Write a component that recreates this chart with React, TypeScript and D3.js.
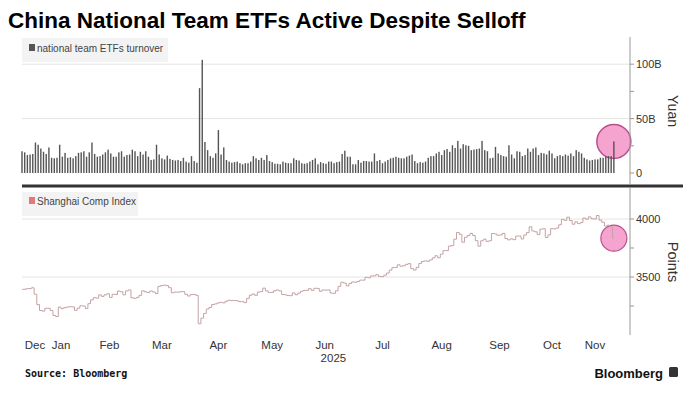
import * as d3 from "d3";

// month labels and trading days of each month on the axis
const months = ["Dec", "Jan", "Feb", "Mar", "Apr", "May", "Jun", "Jul", "Aug", "Sep", "Oct", "Nov"];

// national team ETFs turnover, billion yuan, one value per trading day
const etfDec = [20, 19, 16.5, 17, 17.5, 28];
const etfJan = [26, 22.5, 19.5, 17.5, 23.5, 14, 13.5, 14, 26, 15, 18.5, 14, 14.5, 13.5, 15.5, 18.5, 19, 20];
const etfFeb = [15, 19, 28, 17.5, 15, 15.5, 17, 19, 21.5, 18, 15, 15, 19, 20, 15, 16.5, 17, 21.5];
const etfMar = [20, 15.5, 19.5, 17, 20, 15, 12, 12.5, 26, 17, 13.5, 12.5, 16, 13, 12, 11.5, 12, 11, 14, 10.5, 9.5];
const etfApr = [15.5, 11, 9.5, 78, 104, 28.5, 21, 15.5, 14, 18, 39.5, 17, 23.5, 12, 10.5, 9.5, 10, 10.5, 9, 8, 9];
const etfMay = [9, 10.5, 15.5, 13.5, 12, 14, 12, 16.5, 11, 10, 8.5, 8.5, 8, 10.5, 9.5, 9, 9, 13.5, 12];
const etfJun = [11.5, 9, 8.5, 9, 10.5, 12, 13.5, 8, 10, 9, 8.5, 10.5, 10.5, 9, 10, 10.5, 17.5, 20.5, 15, 15];
const etfJul = [8, 8, 12, 9.5, 11, 11, 10.5, 10.5, 18, 11, 12, 9, 10.5, 12, 13.5, 14, 15, 14, 13.5, 13.5, 15, 16, 17];
const etfAug = [11, 9, 10, 9.5, 10.5, 14, 15.5, 15.5, 18, 19.5, 16.5, 21, 22, 19.5, 25.5, 23, 29.5, 22.5, 26.5, 25.5, 25];
const etfSep = [21, 21.5, 22, 22.5, 29.5, 21, 20, 13.5, 14, 24, 18, 16.5, 15.5, 15, 25.5, 17, 13.5, 20, 19.5, 15.5, 16.5, 22.5];
const etfOct = [19.5, 22.5, 23.5, 16.5, 18.5, 18, 17, 20.5, 18, 13.5, 15.5, 16.5, 15.5, 17, 16, 18, 15.5];
const etfNov = [21, 19.5, 18, 14, 12.5, 11.5, 12, 12.5, 12.5, 14, 14, 15, 15.5, 15.5, 29];

// Shanghai Composite close, points
const shDec = [3393, 3394, 3399, 3400, 3407, 3352];
const shJan = [3262, 3211, 3206, 3230, 3230, 3211, 3169, 3160, 3240, 3227, 3236, 3241, 3244, 3242, 3213, 3231, 3252, 3250];
const shFeb = [3229, 3270, 3303, 3322, 3318, 3346, 3333, 3346, 3355, 3324, 3351, 3350, 3379, 3373, 3346, 3380, 3388, 3321];
const shMar = [3316, 3324, 3342, 3381, 3372, 3366, 3379, 3371, 3358, 3419, 3426, 3430, 3426, 3408, 3364, 3370, 3369, 3373, 3374, 3351, 3336];
const shApr = [3348, 3350, 3342, 3097, 3145, 3186, 3224, 3238, 3263, 3268, 3276, 3281, 3277, 3291, 3300, 3297, 3297, 3295, 3288, 3287, 3279];
const shMay = [3316, 3343, 3353, 3342, 3370, 3374, 3404, 3380, 3367, 3367, 3381, 3388, 3380, 3349, 3346, 3340, 3339, 3363, 3347];
const shJun = [3361, 3377, 3384, 3385, 3399, 3385, 3403, 3402, 3377, 3388, 3387, 3388, 3362, 3359, 3381, 3420, 3455, 3448, 3424, 3444];
const shJul = [3457, 3455, 3461, 3473, 3473, 3497, 3493, 3509, 3510, 3520, 3505, 3503, 3516, 3534, 3559, 3581, 3582, 3605, 3593, 3597, 3609, 3615, 3573];
const shAug = [3560, 3583, 3617, 3634, 3639, 3635, 3647, 3665, 3683, 3666, 3697, 3728, 3727, 3766, 3771, 3826, 3884, 3868, 3800, 3843, 3858];
const shSep = [3876, 3858, 3813, 3766, 3812, 3826, 3807, 3812, 3875, 3871, 3860, 3862, 3876, 3831, 3820, 3829, 3822, 3853, 3853, 3828, 3862, 3883];
const shOct = [3933, 3897, 3890, 3865, 3912, 3916, 3840, 3863, 3917, 3914, 3922, 3950, 3997, 3988, 4016, 3987, 3955];
const shNov = [3976, 3960, 3969, 4008, 3998, 4018, 4003, 4000, 4030, 3990, 3972, 3939, 3946, 3932, 3835];

const etfTicks = [0, 25, 50, 75, 100];
const etfLabels = [0, 50, 100];
const shTicks = [3250, 3500, 3750, 4000];
const shLabels = [3500, 4000];

const etfMonths = [etfDec, etfJan, etfFeb, etfMar, etfApr, etfMay, etfJun, etfJul, etfAug, etfSep, etfOct, etfNov];
const shMonths = [shDec, shJan, shFeb, shMar, shApr, shMay, shJun, shJul, shAug, shSep, shOct, shNov];

const turnover = etfMonths.flat();
const index = shMonths.flat();
const N = turnover.length;

// first trading-day index of each month
const starts = d3.cumsum([0, ...etfMonths.map((m) => m.length)]).slice(0, -1);

const FONT = "'Liberation Sans', Arial, sans-serif";
const W = 693;
const H = 399;

export default function App() {
    const left = 22;
    const right = 630;
    const topY0 = 37;
    const topY1 = 180;
    const botY0 = 190;
    const botY1 = 335;

    const x = d3.scaleLinear().domain([0, N + 5]).range([left, right]);
    const yTop = d3.scaleLinear().domain([0, 125]).range([173, topY0]);
    const yBot = d3.scaleLinear().domain([3000, 4250]).range([botY1, botY0]);

    const line = d3
        .line<number>()
        .x((_, i) => x(i))
        .y((d) => yBot(d))
        .curve(d3.curveStep);

    const bounds = starts.slice(1).map((s) => x(s - 0.5));
    const labelXs = months.map((_, i) => {
        const c = x(starts[i] + (etfMonths[i].length - 1) / 2);
        return i === 0 ? Math.max(c, left + 13) : c;
    });
    const yearX = (x(starts[1] - 0.5) + right) / 2;

    const lastI = N - 1;

    return (
        <svg width={W} height={H} style={{ position: "absolute", left: 0, top: 0, background: "#fff" }} fontFamily={FONT}>
            <rect width={W} height={H} fill="#fff" />
            <text x={8} y={28} fontSize={22.5} fontWeight="bold" fill="#000">
                China National Team ETFs Active Despite Selloff
            </text>

            {/* gridlines */}
            {bounds.map((b, i) => (
                <g key={"v" + i} stroke="#e6e6e6" strokeWidth={1}>
                    <line x1={b} x2={b} y1={topY0} y2={topY1} />
                    <line x1={b} x2={b} y1={botY0} y2={botY1} />
                </g>
            ))}
            {[50, 100].map((v) => (
                <line key={"ht" + v} x1={left} x2={right} y1={yTop(v)} y2={yTop(v)} stroke="#e4e4e4" />
            ))}
            {shLabels.map((v) => (
                <line key={"hb" + v} x1={left} x2={right} y1={yBot(v)} y2={yBot(v)} stroke="#e4e4e4" />
            ))}

            {/* legends */}
            <rect x={left} y={38} width={146} height={24} fill="#f3f3f3" />
            <rect x={29} y={44} width={6} height={7} fill="#555" />
            <text x={37} y={52} fontSize={10} fill="#444">national team ETFs turnover</text>
            <rect x={left} y={192} width={116} height={24} fill="#f3f3f3" />
            <rect x={29} y={197} width={6} height={7} fill="#e07a7a" />
            <text x={37} y={205} fontSize={10} fill="#444">Shanghai Comp Index</text>

            {/* highlight circles */}
            <circle cx={x(lastI)} cy={yTop(turnover[lastI])} r={17} fill="#f5a3cf" stroke="#b9508d" strokeWidth={1.5} />
            <circle cx={x(lastI)} cy={yBot(index[lastI])} r={13} fill="#f5a3cf" stroke="#b9508d" strokeWidth={1.2} />

            {/* bars */}
            {turnover.map((v, i) => (
                <rect key={"b" + i} x={x(i) - 0.7} y={yTop(v)} width={1.4} height={yTop(0) - yTop(v)} fill="#555" />
            ))}

            {/* index line */}
            <path d={line(index) ?? ""} fill="none" stroke="#c4a2a4" strokeWidth={1} />

            {/* separator */}
            <line x1={left} x2={683} y1={186} y2={186} stroke="#333" strokeWidth={3} />

            {/* right axes */}
            <line x1={right} x2={right} y1={topY0} y2={184} stroke="#999" />
            <line x1={right} x2={right} y1={188} y2={botY1} stroke="#999" />
            {etfTicks.map((t) => (
                <line key={"tt" + t} x1={right} x2={right + 4} y1={yTop(t)} y2={yTop(t)} stroke="#999" />
            ))}
            {etfLabels.map((t) => (
                <text key={"tl" + t} x={right + 6} y={yTop(t) + 4} fontSize={11} fill="#333">
                    {t === 0 ? "0" : t + "B"}
                </text>
            ))}
            {shTicks.map((t) => (
                <line key={"bt" + t} x1={right} x2={right + 4} y1={yBot(t)} y2={yBot(t)} stroke="#999" />
            ))}
            {shLabels.map((t) => (
                <text key={"bl" + t} x={right + 6} y={yBot(t) + 4} fontSize={11} fill="#333">
                    {t}
                </text>
            ))}
            <text transform={`translate(668,111) rotate(90)`} textAnchor="middle" fontSize={14} fill="#333">Yuan</text>
            <text transform={`translate(668,262) rotate(90)`} textAnchor="middle" fontSize={14.5} fill="#333">Points</text>

            {/* x axis labels */}
            {months.map((m, i) => (
                <text key={m} x={labelXs[i]} y={349} textAnchor="middle" fontSize={11.5} fill="#333">{m}</text>
            ))}
            <text x={yearX} y={362} textAnchor="middle" fontSize={11.5} fill="#333">2025</text>

            {/* footer */}
            <text x={25} y={377} fontSize={10} fontWeight="bold" fontFamily="'DejaVu Sans Mono', monospace" fill="#111">
                Source: Bloomberg
            </text>
            <text x={663} y={378} textAnchor="end" fontSize={13} fontWeight="bold" fill="#111">Bloomberg</text>
            <rect x={669} y={367} width={9} height={10} rx={1.5} fill="#333" />
        </svg>
    );
}
